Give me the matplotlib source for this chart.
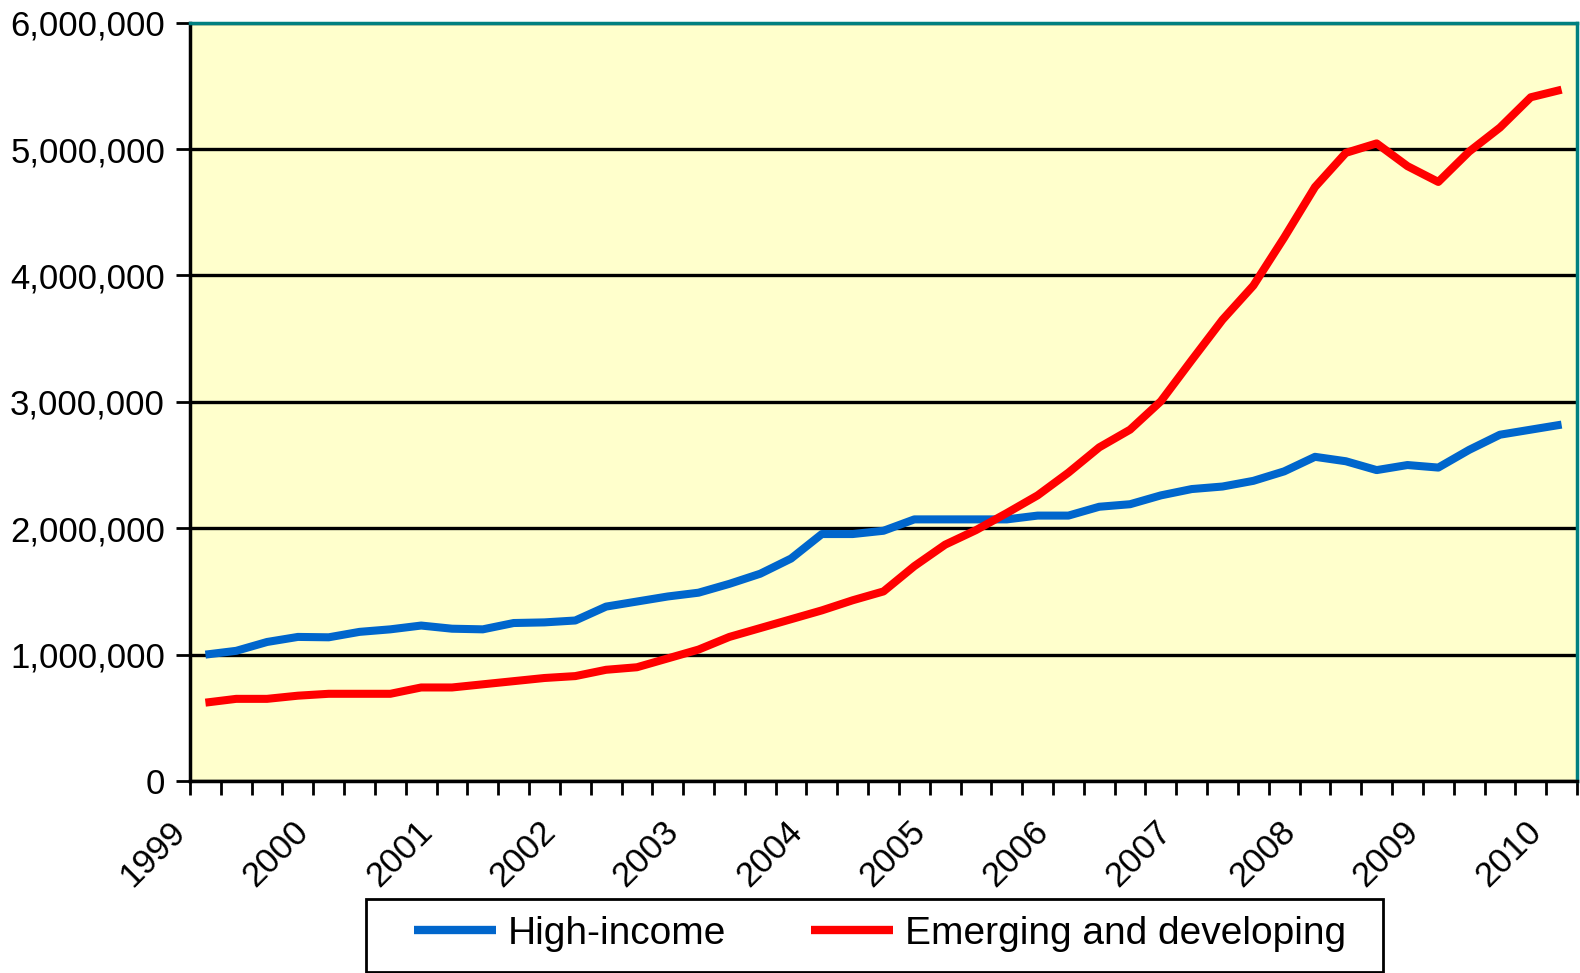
from matplotlib import pyplot as plt
from matplotlib.ticker import FuncFormatter
from matplotlib.patches import Rectangle
from matplotlib.transforms import ScaledTranslation
import numpy as np

plt.rcParams['font.family'] = ['Liberation Sans', 'DejaVu Sans']

# quarterly data, 1999 Q1 to 2010 Q1
years = ['1999', '2000', '2001', '2002', '2003', '2004', '2005', '2006',
         '2007', '2008', '2009', '2010']

high_income = [1000000, 1030000, 1100000, 1140000, 1137000, 1180000, 1200000, 1230000,
               1205000, 1200000, 1250000, 1255000, 1270000, 1380000, 1420000, 1460000,
               1490000, 1560000, 1640000, 1760000, 1954000, 1954000, 1980000, 2070000,
               2070000, 2070000, 2070000, 2100000, 2100000, 2170000, 2190000, 2260000,
               2310000, 2330000, 2375000, 2450000, 2565000, 2530000, 2460000, 2500000,
               2480000, 2620000, 2740000, 2780000, 2820000]

emerging = [620000, 650000, 650000, 675000, 690000, 690000, 690000, 740000,
            740000, 765000, 790000, 815000, 830000, 880000, 900000, 970000,
            1040000, 1140000, 1210000, 1280000, 1350000, 1430000, 1500000, 1700000,
            1870000, 1985000, 2120000, 2260000, 2440000, 2640000, 2780000, 3005000,
            3330000, 3650000, 3920000, 4300000, 4700000, 4970000, 5045000, 4865000,
            4740000, 4980000, 5170000, 5410000, 5470000]

x = np.arange(len(high_income))

fig = plt.figure(figsize=(15.8, 9.73), dpi=100)
ax = fig.add_axes([190 / 1580, 1 - 781 / 973, 1387 / 1580, (781 - 22.7) / 973])
ax.set_facecolor('#FFFFCC')

ax.plot(x, high_income, color='#0066CC', linewidth=5.8, label='High-income',
        solid_capstyle='butt', zorder=3)
ax.plot(x, emerging, color='#FF0000', linewidth=5.8, label='Emerging and developing',
        solid_capstyle='butt', zorder=3)

# y axis
ax.set_ylim(0, 6000000)
ax.set_yticks(np.arange(0, 6000001, 1000000))
ax.yaxis.set_major_formatter(FuncFormatter(lambda v, p: '{:,.0f}'.format(v)))
ax.grid(axis='y', color='black', linewidth=2.4, zorder=1)
ax.tick_params(axis='y', direction='out', length=10, width=2, labelsize=25, pad=8)

# x axis: ticks between categories, year labels every 4 quarters
ax.set_xlim(-0.5, len(x) - 0.5)
ax.set_xticks(np.arange(-0.5, len(x), 1))
ax.set_xticklabels([])
ax.set_xticks(np.arange(0, len(x), 4), minor=True)
ax.set_xticklabels(years, minor=True, rotation=45, ha='right', va='center',
                   rotation_mode='anchor', fontsize=25)
ax.tick_params(axis='x', which='major', direction='out', length=10, width=2)
ax.tick_params(axis='x', which='minor', length=0, pad=33)
shift = ScaledTranslation(-0.25, 0, fig.dpi_scale_trans)
for lab in ax.get_xticklabels(minor=True):
    lab.set_transform(lab.get_transform() + shift)

ax.spines['left'].set_linewidth(2.5)
ax.spines['bottom'].set_linewidth(2.5)
ax.spines['left'].set_color('black')
ax.spines['bottom'].set_color('black')
ax.spines['top'].set_color('#008080')
ax.spines['right'].set_color('#008080')
ax.spines['top'].set_linewidth(2.5)
ax.spines['right'].set_linewidth(2.5)

# legend box drawn by hand, legend entries inside it
fig.patches.append(Rectangle((366 / 1580, 1 - 972 / 973), 1017 / 1580, 73 / 973,
                             transform=fig.transFigure, facecolor='white',
                             edgecolor='black', linewidth=2))
leg = fig.legend(loc='center left', bbox_to_anchor=(414 / 1580, 1 - 934 / 973), ncol=2,
                 fontsize=28, frameon=False, handlelength=2.1, handletextpad=0.3,
                 columnspacing=2.2, borderpad=0, borderaxespad=0)
for line in leg.get_lines():
    line.set_linewidth(6)

plt.savefig('out.png', dpi=100)
